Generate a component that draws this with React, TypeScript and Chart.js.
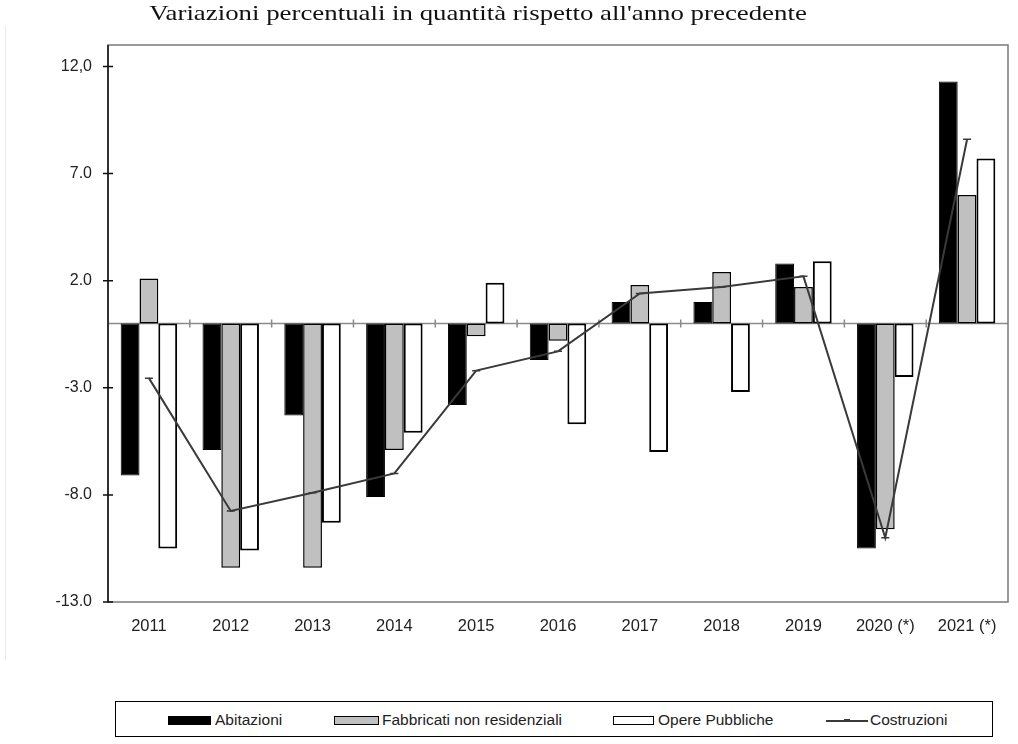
import React, { useEffect, useRef } from "react";
import { Chart, registerables } from "chart.js";

Chart.register(...registerables);

const titleText = "Variazioni percentuali in quantità rispetto all'anno precedente";
const categories = ["2011", "2012", "2013", "2014", "2015", "2016", "2017", "2018", "2019", "2020 (*)", "2021 (*)"];
const abitazioni = [-7.1, -5.9, -4.3, -8.1, -3.8, -1.7, 1.0, 1.0, 2.8, -10.5, 11.3];
const fabbricati = [2.1, -11.4, -11.4, -5.9, -0.6, -0.8, 1.8, 2.4, 1.7, -9.6, 6.0];
const operePubbliche = [-10.5, -10.6, -9.3, -5.1, 1.9, -4.7, -6.0, -3.2, 2.9, -2.5, 7.7];
const costruzioni = [-2.55, -8.75, -7.9, -7.0, -2.2, -1.3, 1.4, 1.7, 2.2, -10.0, 8.6];
const yTickValues = [-13, -8, -3, 2, 7, 12];
const yTickLabels = ["-13.0", "-8.0", "-3.0", "2.0", "7.0", "12,0"];
const seriesNames = ["Abitazioni", "Fabbricati non residenziali", "Opere Pubbliche", "Costruzioni"];

const framePlugin = {
  id: "frame",
  beforeDatasetsDraw(chart: any) {
    const { ctx, chartArea: a, scales } = chart;
    const y0 = scales.y.getPixelForValue(0);
    ctx.save();
    ctx.strokeStyle = "#8a8a8a";
    ctx.lineWidth = 1.5;
    ctx.beginPath();
    ctx.moveTo(a.left, y0);
    ctx.lineTo(a.right, y0);
    const n = chart.data.labels.length;
    for (let i = 1; i < n; i++) {
      const x = a.left + ((a.right - a.left) * i) / n;
      ctx.moveTo(x, y0 - 4);
      ctx.lineTo(x, y0 + 4);
    }
    ctx.stroke();
    ctx.restore();
  },
  afterDraw(chart: any) {
    const { ctx, chartArea: a, scales } = chart;
    ctx.save();
    ctx.strokeStyle = "#7a7a7a";
    ctx.lineWidth = 1.5;
    ctx.strokeRect(a.left, a.top, a.right - a.left, a.bottom - a.top);
    ctx.strokeStyle = "#111";
    ctx.beginPath();
    ctx.moveTo(a.left, a.top);
    ctx.lineTo(a.left, a.bottom);
    yTickValues.forEach((v) => {
      const y = scales.y.getPixelForValue(v);
      ctx.moveTo(a.left - 5, y);
      ctx.lineTo(a.left + 5, y);
    });
    ctx.stroke();
    ctx.restore();
  },
};

export default function App() {
  const ref = useRef<HTMLCanvasElement | null>(null);

  useEffect(() => {
    if (!ref.current) return;
    const font = { family: "'Liberation Sans', Arial, sans-serif", size: 16 };
    const chart = new Chart(ref.current, {
      type: "bar",
      data: {
        labels: categories,
        datasets: [
          {
            type: "line",
            label: seriesNames[3],
            data: costruzioni,
            borderColor: "#3a3a3a",
            borderWidth: 2,
            pointStyle: "line",
            pointRadius: 4,
            pointBorderColor: "#3a3a3a",
            pointBorderWidth: 1.5,
            tension: 0,
            order: 0,
          } as any,
          {
            label: seriesNames[0],
            data: abitazioni,
            backgroundColor: "#000000",
            borderColor: "#000000",
            borderWidth: 1,
            borderSkipped: false,
            order: 1,
          },
          {
            label: seriesNames[1],
            data: fabbricati,
            backgroundColor: "#c0c0c0",
            borderColor: "#000000",
            borderWidth: 1.5,
            borderSkipped: false,
            order: 1,
          },
          {
            label: seriesNames[2],
            data: operePubbliche,
            backgroundColor: "#ffffff",
            borderColor: "#000000",
            borderWidth: 2,
            borderSkipped: false,
            order: 1,
          },
        ],
      },
      options: {
        responsive: false,
        animation: false,
        layout: { padding: { left: 0, top: 45, right: 10, bottom: 0 } },
        plugins: { legend: { display: false }, tooltip: { enabled: false }, title: { display: false } },
        datasets: { bar: { categoryPercentage: 0.69, barPercentage: 1.0 } },
        scales: {
          x: {
            grid: { display: false, drawTicks: false },
            border: { display: false },
            ticks: { font: { ...font, size: 16.5 }, color: "#222", padding: 15, maxRotation: 0, autoSkip: false },
            afterFit(s: any) {
              s.height = 142;
            },
          },
          y: {
            min: -13,
            max: 13,
            grid: { display: false, drawTicks: false },
            border: { display: false },
            afterBuildTicks(s: any) {
              s.ticks = yTickValues.map((v) => ({ value: v }));
            },
            ticks: {
              font,
              color: "#222",
              padding: 16,
              callback: (v: any) => {
                const i = yTickValues.indexOf(Number(v));
                return i >= 0 ? yTickLabels[i] : "";
              },
            },
            afterFit(s: any) {
              s.width = 108;
            },
          },
        },
      } as any,
      plugins: [framePlugin],
    });
    return () => chart.destroy();
  }, []);

  const legendFont: React.CSSProperties = {
    position: "absolute",
    top: 9,
    fontFamily: "'Liberation Sans', Arial, sans-serif",
    fontSize: 15.5,
    lineHeight: "18px",
    color: "#222",
    whiteSpace: "nowrap",
  };
  const sw = (left: number, width: number, bg: string): React.CSSProperties => ({
    position: "absolute",
    left,
    top: 14,
    width,
    height: 9,
    boxSizing: "border-box",
    background: bg,
    border: "1.5px solid #000",
  });

  return (
    <div style={{ position: "absolute", left: 0, top: 0, width: 1018, height: 744, background: "#fff", overflow: "hidden" }}>
      <div style={{ position: "absolute", left: 5, top: 26, width: 1, height: 634, background: "#e8e8e8" }} />
      <canvas ref={ref} width={1018} height={744} style={{ position: "absolute", left: 0, top: 0, width: 1018, height: 744 }} />
      <div
        style={{
          position: "absolute",
          left: 0,
          top: 1,
          width: 956,
          textAlign: "center",
          fontFamily: "'Liberation Serif', 'Times New Roman', serif",
          fontSize: 22,
          lineHeight: "24px",
          color: "#111",
          transform: "scaleX(1.22)",
          transformOrigin: "478px 12px",
          whiteSpace: "nowrap",
        }}
      >
        {titleText}
      </div>
      <div
        style={{
          position: "absolute",
          left: 115,
          top: 701,
          width: 878,
          height: 36,
          boxSizing: "border-box",
          border: "1px solid #000",
          background: "#fff",
        }}
      >
        <div style={sw(52, 43, "#000")} />
        <div style={{ ...legendFont, left: 99 }}>{seriesNames[0]}</div>
        <div style={sw(218, 45, "#c0c0c0")} />
        <div style={{ ...legendFont, left: 266 }}>{seriesNames[1]}</div>
        <div style={sw(497, 41, "#fff")} />
        <div style={{ ...legendFont, left: 542 }}>{seriesNames[2]}</div>
        <div style={{ position: "absolute", left: 710, top: 18, width: 42, height: 2, background: "#3a3a3a" }} />
        <div style={{ position: "absolute", left: 728, top: 17, width: 6, height: 3, background: "#3a3a3a" }} />
        <div style={{ ...legendFont, left: 754 }}>{seriesNames[3]}</div>
      </div>
    </div>
  );
}
